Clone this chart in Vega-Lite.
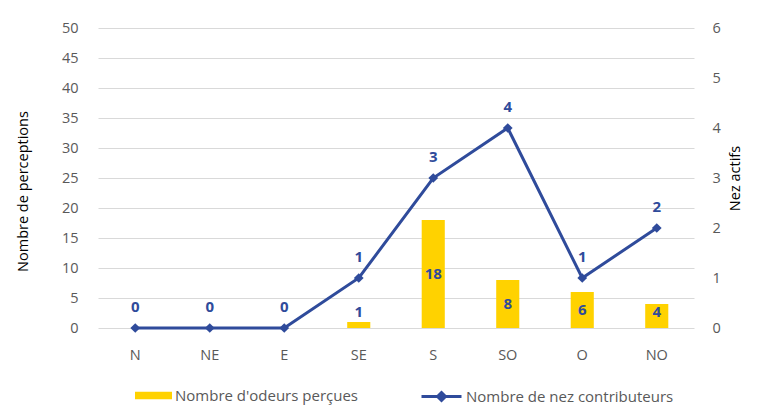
{
  "$schema": "https://vega.github.io/schema/vega-lite/v6.json",
  "width": 596,
  "height": 300,
  "autosize": "none",
  "padding": {"left": 98, "top": 28, "right": 77, "bottom": 91},
  "background": "white",
  "config": {
    "font": "Open Sans",
    "view": {"stroke": null},
    "axis": {"labelFont": "Open Sans", "titleFont": "Open Sans"}
  },
  "data": {
    "values": [
      {"dir": "N", "odeurs": 0, "nez": 0},
      {"dir": "NE", "odeurs": 0, "nez": 0},
      {"dir": "E", "odeurs": 0, "nez": 0},
      {"dir": "SE", "odeurs": 1, "nez": 1},
      {"dir": "S", "odeurs": 18, "nez": 3},
      {"dir": "SO", "odeurs": 8, "nez": 4},
      {"dir": "O", "odeurs": 6, "nez": 1},
      {"dir": "NO", "odeurs": 4, "nez": 2}
    ]
  },
  "encoding": {
    "x": {
      "field": "dir",
      "type": "nominal",
      "sort": null,
      "scale": {"paddingInner": 0.69, "paddingOuter": 0.345},
      "axis": {
        "title": null,
        "labelAngle": 0,
        "domain": false,
        "ticks": false,
        "grid": false,
        "labelPadding": 20,
        "labelFontSize": 14.5,
        "labelColor": "#595959"
      }
    }
  },
  "layer": [
    {
      "layer": [
        {
          "mark": {"type": "bar", "color": "#FFD200"},
          "encoding": {
            "y": {
              "field": "odeurs",
              "type": "quantitative",
              "scale": {"domain": [0, 50]},
              "axis": {
                "title": "Nombre de perceptions",
                "values": [0, 5, 10, 15, 20, 25, 30, 35, 40, 45, 50],
                "labelOverlap": false,
                "grid": true,
                "gridColor": "#d9d9d9",
                "domain": false,
                "ticks": false,
                "labelPadding": 20,
                "labelFontSize": 14.5,
                "labelColor": "#595959",
                "titleFontSize": 14.5,
                "titleFontWeight": "normal",
                "titleColor": "#000000",
                "titlePadding": 31,
                "titleY": 163
              }
            },
            "color": {
              "datum": "Nombre d'odeurs perçues",
              "scale": {"range": ["#FFD200"]},
              "legend": {
                "title": null,
                "orient": "none",
                "legendX": 37,
                "legendY": 349,
                "padding": 0,
                "symbolType": "M-1,-0.2H1V0.2H-1Z",
                "symbolSize": 1369,
                "symbolStrokeWidth": 0,
                "symbolOpacity": 1,
                "labelFontSize": 15,
                "labelColor": "#595959",
                "labelOffset": 3,
                "labelLimit": 0
              }
            }
          }
        },
        {
          "transform": [
            {"filter": "datum.odeurs > 0"},
            {"calculate": "max(datum.odeurs / 2, 2.7)", "as": "labely"}
          ],
          "mark": {
            "type": "text",
            "fontWeight": "bold",
            "fontSize": 15,
            "color": "#2F4B9B",
            "baseline": "middle"
          },
          "encoding": {
            "y": {
              "field": "labely",
              "type": "quantitative",
              "axis": {
                "title": "Nombre de perceptions",
                "values": [0, 5, 10, 15, 20, 25, 30, 35, 40, 45, 50],
                "labelOverlap": false,
                "grid": true,
                "gridColor": "#d9d9d9",
                "domain": false,
                "ticks": false,
                "labelPadding": 20,
                "labelFontSize": 14.5,
                "labelColor": "#595959",
                "titleFontSize": 14.5,
                "titleFontWeight": "normal",
                "titleColor": "#000000",
                "titlePadding": 31,
                "titleY": 163
              }
            },
            "text": {"field": "odeurs", "type": "quantitative"}
          }
        }
      ]
    },
    {
      "layer": [
        {
          "mark": {
            "type": "line",
            "strokeWidth": 3,
            "point": {"shape": "diamond", "size": 95, "filled": true}
          },
          "encoding": {
            "y": {
              "field": "nez",
              "type": "quantitative",
              "scale": {"domain": [0, 6]},
              "axis": {
                "orient": "right",
                "title": "Nez actifs",
                "titleAngle": 270,
                "titleBaseline": "top",
                "values": [0, 1, 2, 3, 4, 5, 6],
                "labelOverlap": false,
                "grid": false,
                "domain": false,
                "ticks": false,
                "labelPadding": 18,
                "labelFontSize": 14.5,
                "labelColor": "#595959",
                "titleFontSize": 14.5,
                "titleFontWeight": "normal",
                "titleColor": "#000000",
                "titlePadding": 8
              }
            },
            "color": {
              "datum": "Nombre de nez contributeurs",
              "scale": {"range": ["#2F4B9B"]},
              "legend": {
                "title": null,
                "orient": "none",
                "legendX": 322,
                "legendY": 347,
                "padding": 0,
                "symbolType": "M-1,0H1M-0.2,0L0,-0.2L0.2,0L0,0.2Z",
                "symbolSize": 1600,
                "symbolStrokeWidth": 3,
                "symbolStrokeColor": "#2F4B9B",
                "symbolFillColor": "#2F4B9B",
                "labelFontSize": 15,
                "labelColor": "#595959",
                "labelOffset": 3,
                "labelLimit": 0
              }
            }
          }
        },
        {
          "mark": {
            "type": "text",
            "fontWeight": "bold",
            "fontSize": 15,
            "color": "#2F4B9B",
            "baseline": "alphabetic",
            "dy": -16
          },
          "encoding": {
            "y": {"field": "nez", "type": "quantitative"},
            "text": {"field": "nez", "type": "quantitative"}
          }
        }
      ]
    }
  ],
  "resolve": {"scale": {"y": "independent", "color": "independent"}}
}
